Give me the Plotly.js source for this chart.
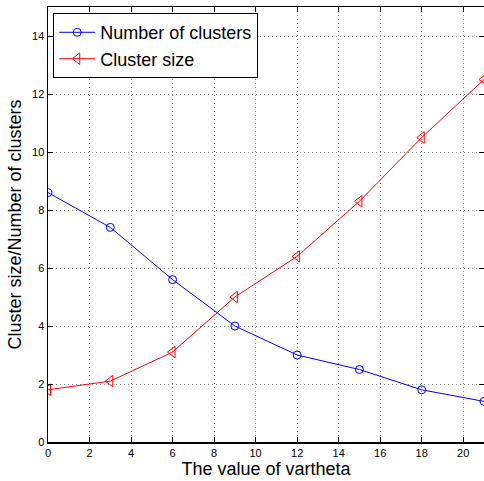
<!DOCTYPE html>
<html><head><meta charset="utf-8">
<script src="https://cdn.plot.ly/plotly-3.0.1.min.js"></script>
<style>html,body{margin:0;padding:0;background:#fff}#chart{width:484px;height:481px}</style>
</head><body><div id="chart"></div>
<script>
const varthetaValues = [0, 3, 6, 9, 12, 15, 18, 21];
const numberOfClusters = [8.6, 7.4, 5.6, 4.0, 3.0, 2.5, 1.8, 1.4];
const clusterSize = [1.8, 2.1, 3.1, 5.0, 6.4, 8.3, 10.5, 12.5];
const xTicks = [0, 2, 4, 6, 8, 10, 12, 14, 16, 18, 20];
const yTicks = [0, 2, 4, 6, 8, 10, 12, 14];

const traces = [
  {x: varthetaValues, y: numberOfClusters, name: 'Number of clusters', mode: 'lines+markers',
   line: {color: '#0000ff', width: 1}, marker: {symbol: 'circle-open', size: 8, color: '#0000ff', line: {width: 1}}},
  {x: varthetaValues, y: clusterSize, name: 'Cluster size', mode: 'lines+markers',
   line: {color: '#ff0000', width: 1}, marker: {symbol: 'triangle-left-open', size: 10, color: '#ff0000', line: {width: 1}}}
];
const axisCommon = {
  showline: true, linecolor: '#000', linewidth: 1.5, mirror: 'ticks',
  ticks: 'inside', ticklen: 5, tickcolor: '#000', tickwidth: 1,
  showgrid: true, gridcolor: '#888', griddash: '1px,3px', gridwidth: 1,
  zeroline: false, tickfont: {family: 'Liberation Sans, Arial', size: 11, color: '#000'}
};
const layout = {
  width: 484, height: 481,
  margin: {l: 48, r: 0, t: 7, b: 39},
  paper_bgcolor: '#fff', plot_bgcolor: '#fff',
  showlegend: true,
  legend: {x: 0.012, y: 0.986, xanchor: 'left', yanchor: 'top', bgcolor: '#fff', bordercolor: '#000', borderwidth: 1,
    font: {family: 'Liberation Sans, Arial', size: 18, color: '#000'}, tracegroupgap: 0, itemwidth: 36},
  xaxis: Object.assign({}, axisCommon, {range: [0, 21], tickvals: xTicks,
    title: {text: 'The value of vartheta', font: {family: 'Liberation Sans, Arial', size: 18, color: '#000'}, standoff: 3}}),
  yaxis: Object.assign({}, axisCommon, {range: [0, 15], tickvals: yTicks,
    title: {text: 'Cluster size/Number of clusters', font: {family: 'Liberation Sans, Arial', size: 18, color: '#000'}, standoff: 5}})
};
Plotly.newPlot('chart', traces, layout, {displayModeBar: false, staticPlot: true});
</script></body></html>
